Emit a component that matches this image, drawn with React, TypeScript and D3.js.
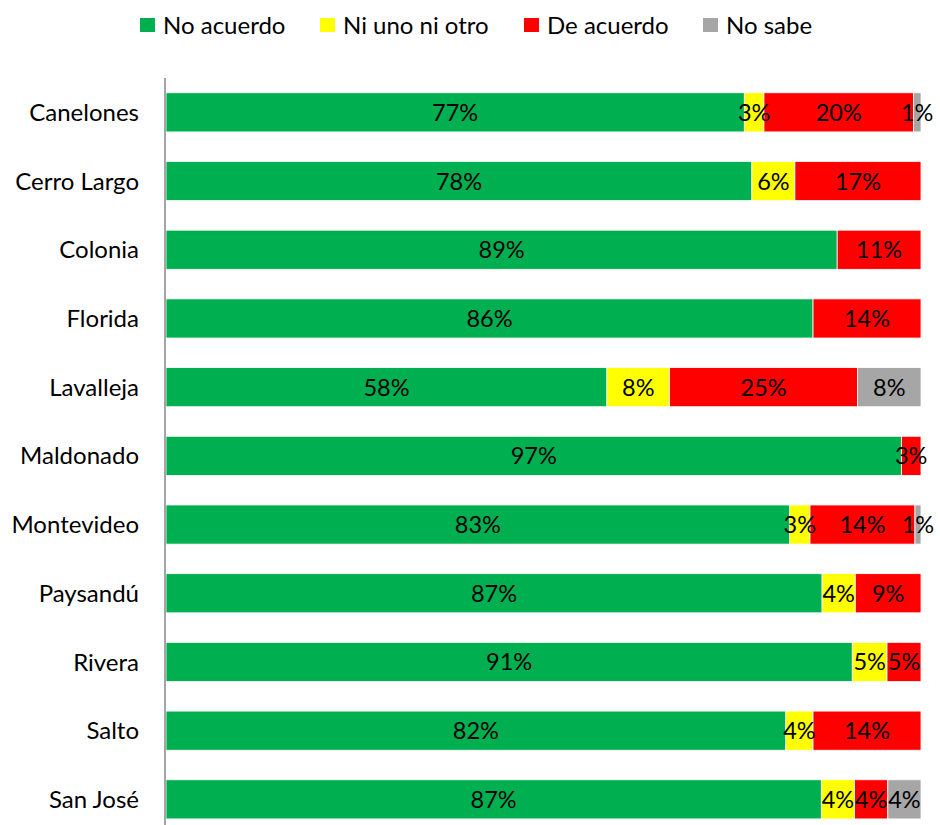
import React, { useEffect, useRef } from "react";
import * as d3 from "d3";

const departments = [
  "Canelones",
  "Cerro Largo",
  "Colonia",
  "Florida",
  "Lavalleja",
  "Maldonado",
  "Montevideo",
  "Paysandú",
  "Rivera",
  "Salto",
  "San José",
];

const seriesNames = ["No acuerdo", "Ni uno ni otro", "De acuerdo", "No sabe"];
const seriesColors = ["#00b050", "#ffff00", "#ff0000", "#a6a6a6"];

const noAcuerdo = [76.6, 77.6, 88.9, 85.7, 58.4, 97.4, 82.6, 86.9, 90.9, 82.1, 86.8];
const niUnoNiOtro = [2.6, 5.7, 0, 0, 8.3, 0, 2.7, 4.4, 4.6, 3.6, 4.4];
const deAcuerdo = [19.8, 16.7, 11.1, 14.3, 24.9, 2.6, 13.9, 8.7, 4.5, 14.3, 4.4];
const noSabe = [1.0, 0, 0, 0, 8.4, 0, 0.8, 0, 0, 0, 4.4];

const FONT = "Lato, 'Open Sans', sans-serif";

export default function App() {
  const ref = useRef<SVGSVGElement | null>(null);

  useEffect(() => {
    const width = 940;
    const height = 825;
    const margin = { left: 166, right: 19, top: 78 };

    const svg = d3.select(ref.current);
    svg.selectAll("*").remove();

    const rows = departments.map((name, i) => ({
      name,
      values: [noAcuerdo[i], niUnoNiOtro[i], deAcuerdo[i], noSabe[i]],
    }));

    const x = d3
      .scaleLinear()
      .domain([0, 100])
      .range([margin.left, width - margin.right]);

    const y = d3
      .scaleBand()
      .domain(departments)
      .range([margin.top, margin.top + 68.7 * departments.length])
      .paddingInner(0.43)
      .paddingOuter(0.215);

    // bars
    rows.forEach((row) => {
      let acc = 0;
      row.values.forEach((v, k) => {
        if (v <= 0) return;
        const x0 = x(acc);
        const x1 = x(acc + v);
        acc += v;
        svg
          .append("rect")
          .attr("x", x0)
          .attr("y", y(row.name)!)
          .attr("width", x1 - x0)
          .attr("height", y.bandwidth())
          .attr("fill", seriesColors[k])
          .attr("stroke", "#ffffff")
          .attr("stroke-width", 0.8);
      });
    });

    // value labels on top of all bars
    rows.forEach((row) => {
      let acc = 0;
      row.values.forEach((v) => {
        if (v <= 0) return;
        const cx = (x(acc) + x(acc + v)) / 2;
        acc += v;
        svg
          .append("text")
          .attr("x", cx)
          .attr("y", y(row.name)! + y.bandwidth() / 2)
          .attr("dy", "0.36em")
          .attr("text-anchor", "middle")
          .attr("font-family", FONT)
          .attr("font-size", 23.5)
          .attr("fill", "#000")
          .text(`${Math.round(v)}%`);
      });
    });

    // axis line
    svg
      .append("line")
      .attr("x1", margin.left - 1)
      .attr("x2", margin.left - 1)
      .attr("y1", margin.top)
      .attr("y2", height)
      .attr("stroke", "#868686")
      .attr("stroke-width", 1.5);

    // category labels
    svg
      .append("g")
      .selectAll("text")
      .data(departments)
      .join("text")
      .attr("x", 139)
      .attr("y", (d) => y(d)! + y.bandwidth() / 2)
      .attr("dy", "0.36em")
      .attr("text-anchor", "end")
      .attr("font-family", FONT)
      .attr("font-size", 24)
      .attr("fill", "#000")
      .text((d) => d);

    // legend
    const legendX = [140, 320, 524, 703];
    const legend = svg
      .append("g")
      .selectAll("g")
      .data(seriesNames)
      .join("g")
      .attr("transform", (_, i) => `translate(${legendX[i]},18)`);
    legend
      .append("rect")
      .attr("width", 15)
      .attr("height", 14)
      .attr("fill", (_, i) => seriesColors[i]);
    legend
      .append("text")
      .attr("x", 23)
      .attr("y", 7)
      .attr("dy", "0.36em")
      .attr("font-family", FONT)
      .attr("font-size", 24)
      .attr("fill", "#000")
      .text((d) => d);
  }, []);

  return (
    <div style={{ position: "absolute", left: 0, top: 0 }}>
      <svg ref={ref} width={940} height={825} style={{ display: "block", background: "#fff" }} />
    </div>
  );
}
